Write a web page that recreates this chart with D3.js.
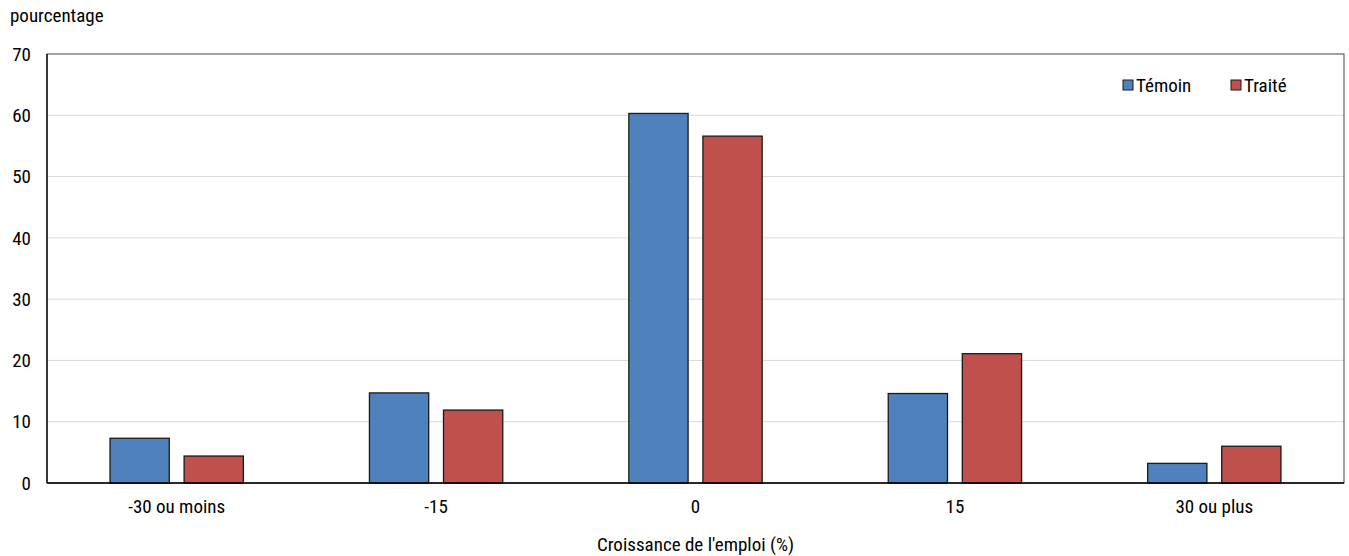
<!DOCTYPE html>
<html>
<head>
<meta charset="utf-8">
<script src="https://cdn.jsdelivr.net/npm/d3@7"></script>
<style>
  body { margin: 0; background: #fff; }
  svg text { font-family: "Liberation Sans Narrow", "Roboto Condensed", Roboto, sans-serif; fill: #000; }
</style>
</head>
<body>
<svg id="chart" width="1349" height="556"></svg>
<script>
// Données
const categories = ['-30 ou moins', '-15', '0', '15', '30 ou plus'];
const seriesNames = ['Témoin', 'Traité'];
const temoin = [7.3, 14.7, 60.3, 14.6, 3.2];
const traite = [4.4, 11.9, 56.6, 21.1, 6.0];
const yTicks = [0, 10, 20, 30, 40, 50, 60, 70];
const colors = ['#4f81bd', '#c0504d'];

const W = 1349, H = 556;
const m = { left: 47, right: 5, top: 54, bottom: 73 };
const FS = 19;
const svg = d3.select('#chart');

const x = d3.scaleBand().domain(categories).range([m.left, W - m.right]);
const y = d3.scaleLinear().domain([0, 70]).range([H - m.bottom, m.top]);
const xs = d3.scaleBand().domain(seriesNames)
  .range([x.bandwidth() * 0.243, x.bandwidth() * 0.757]).paddingInner(0.2);

// Quadrillage
svg.append('g').selectAll('line')
  .data(yTicks.filter(t => t > 0 && t < 70))
  .enter().append('line')
  .attr('x1', m.left).attr('x2', W - m.right)
  .attr('y1', d => y(d)).attr('y2', d => y(d))
  .attr('stroke', '#d9d9d9').attr('stroke-width', 1);

// Cadre
svg.append('rect')
  .attr('x', m.left).attr('y', m.top)
  .attr('width', W - m.right - m.left).attr('height', y(0) - m.top)
  .attr('fill', 'none').attr('stroke', '#444').attr('stroke-width', 1);

// Barres
const rows = categories.map((c, i) => ({ cat: c, vals: [temoin[i], traite[i]] }));
const grp = svg.append('g').selectAll('g').data(rows).enter().append('g')
  .attr('transform', d => `translate(${x(d.cat)},0)`);
grp.selectAll('rect')
  .data(d => d.vals.map((v, j) => ({ s: seriesNames[j], v, j })))
  .enter().append('rect')
  .attr('x', d => xs(d.s))
  .attr('width', xs.bandwidth())
  .attr('y', d => y(d.v))
  .attr('height', d => y(0) - y(d.v))
  .attr('fill', d => colors[d.j])
  .attr('stroke', '#1a1a1a').attr('stroke-width', 1.3);

// Axes
svg.append('line')
  .attr('x1', m.left).attr('x2', W - m.right)
  .attr('y1', y(0)).attr('y2', y(0))
  .attr('stroke', '#000').attr('stroke-width', 1.5);
svg.append('line')
  .attr('x1', m.left).attr('x2', m.left)
  .attr('y1', m.top).attr('y2', y(0))
  .attr('stroke', '#000').attr('stroke-width', 1.3);

// Étiquettes
svg.append('g').selectAll('text').data(yTicks).enter().append('text')
  .attr('x', 31).attr('y', d => y(d)).attr('dy', '0.35em')
  .attr('text-anchor', 'end').attr('font-size', FS).text(d => d);

svg.append('g').selectAll('text').data(categories).enter().append('text')
  .attr('x', d => x(d) + x.bandwidth() / 2).attr('y', 513)
  .attr('text-anchor', 'middle').attr('font-size', FS).text(d => d);

svg.append('text').attr('x', 10).attr('y', 22).attr('font-size', FS).text('pourcentage');
svg.append('text').attr('x', (m.left + W - m.right) / 2).attr('y', 551)
  .attr('text-anchor', 'middle').attr('font-size', FS).text("Croissance de l'emploi (%)");

// Légende
const leg = svg.append('g').selectAll('g').data(seriesNames).enter().append('g')
  .attr('transform', (d, i) => `translate(${1123 + i * 108},80)`);
leg.append('rect').attr('width', 10).attr('height', 10)
  .attr('fill', (d, i) => colors[i]).attr('stroke', '#1a1a1a').attr('stroke-width', 1);
leg.append('text').attr('x', 13).attr('y', 5).attr('dy', '0.35em')
  .attr('font-size', FS).text(d => d);
</script>
</body>
</html>
